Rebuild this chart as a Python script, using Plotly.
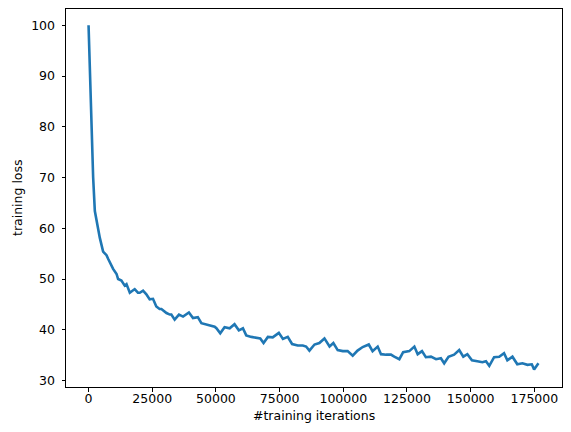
import plotly.graph_objects as go

iterations = [0, 1400, 1800, 2470, 3370, 4430, 5720, 7050, 7680, 9640, 11000, 11600,
              12900, 14200, 14900, 16200, 17500, 18100, 19400, 20100, 21400, 22700,
              24000, 25300, 26600, 27900, 28600, 29900, 30600, 31900, 32500, 33800,
              35500, 37100, 39400, 41000, 42900, 44300, 46900, 49500, 50200, 51700,
              53400, 55400, 57300, 59000, 60600, 61900, 63900, 65800, 67400, 68700,
              70400, 72300, 74700, 76300, 78200, 79900, 82100, 84100, 85400, 86700,
              88700, 90600, 92600, 94600, 96100, 97800, 99800, 101700, 103700, 105600,
              107600, 110000, 111500, 113500, 114800, 116800, 118700, 120000, 122000,
              123500, 125900, 127900, 129200, 130900, 132400, 134400, 136400, 138300,
              139600, 141300, 143500, 145500, 147100, 148700, 150500, 152600, 154600,
              156000, 157300, 159200, 161200, 163100, 164400, 166400, 168300, 170300,
              172300, 174000, 174900, 176600]
loss = [100.0, 73.8, 70.1, 63.4, 60.7, 58.1, 55.4, 54.7, 54.0, 52.0, 51.0, 50.0,
        49.7, 48.7, 49.0, 47.3, 47.8, 48.0, 47.3, 47.3, 47.7, 47.0,
        46.0, 46.1, 44.6, 44.1, 44.1, 43.6, 43.3, 43.0, 43.0, 42.0,
        43.0, 42.6, 43.4, 42.3, 42.5, 41.3, 40.9, 40.6, 40.3, 39.3,
        40.5, 40.3, 41.1, 39.9, 40.3, 38.9, 38.6, 38.5, 38.3, 37.4,
        38.6, 38.5, 39.4, 38.2, 38.6, 37.2, 36.9, 36.9, 36.7, 35.9,
        37.1, 37.4, 38.3, 36.7, 37.4, 36.0, 35.8, 35.8, 34.9, 35.9,
        36.6, 37.1, 35.8, 36.7, 35.2, 35.1, 35.1, 34.7, 34.2,
        35.6, 35.8, 36.7, 35.2, 35.8, 34.6, 34.7, 34.2, 34.4,
        33.4, 34.7, 35.1, 36.0, 34.7, 35.2, 34.0, 33.8, 33.6,
        33.8, 32.9, 34.6, 34.7, 35.4, 34.0, 34.7, 33.2, 33.4,
        33.1, 33.2, 32.2, 33.4]

x_ticks = [0, 25000, 50000, 75000, 100000, 125000, 150000, 175000]
y_ticks = [30, 40, 50, 60, 70, 80, 90, 100]
x_title = "#training iterations"
y_title = "training loss"

fig = go.Figure()
fig.add_trace(go.Scatter(x=iterations, y=loss, mode="lines",
                         line=dict(color="#1f77b4", width=2.6), showlegend=False))

axis_common = dict(showline=True, linecolor="black", linewidth=1, mirror=True,
                   ticks="outside", ticklen=3.5, tickwidth=1, tickcolor="black",
                   showgrid=False, zeroline=False, automargin=False,
                   tickfont=dict(family="DejaVu Sans", size=12.5, color="black"))

fig.update_xaxes(range=[-8850, 185850], tickvals=x_ticks, ticklabelstandoff=-4,
                 ticktext=[str(v) for v in x_ticks], **axis_common)
fig.update_yaxes(range=[28.73, 103.2], tickvals=y_ticks, ticklabelstandoff=4,
                 ticktext=[str(v) for v in y_ticks], **axis_common)

fig.add_annotation(text=x_title, xref="paper", yref="paper", x=0.5, y=0,
                   yshift=-28, yanchor="middle", showarrow=False,
                   font=dict(family="DejaVu Sans", size=12.5, color="black"))
fig.add_annotation(text=y_title, xref="paper", yref="paper", x=0, y=0.5,
                   xshift=-49, xanchor="center", textangle=-90, showarrow=False,
                   font=dict(family="DejaVu Sans", size=12.5, color="black"))

# the page body adds an 8px offset, so the figure is sized to fit the window
fig.update_layout(width=563, height=424, margin=dict(l=58, r=9, t=1, b=45),
                  paper_bgcolor="white", plot_bgcolor="white",
                  font=dict(family="DejaVu Sans", size=12.5, color="black"))

fig.write_html("out.html")
